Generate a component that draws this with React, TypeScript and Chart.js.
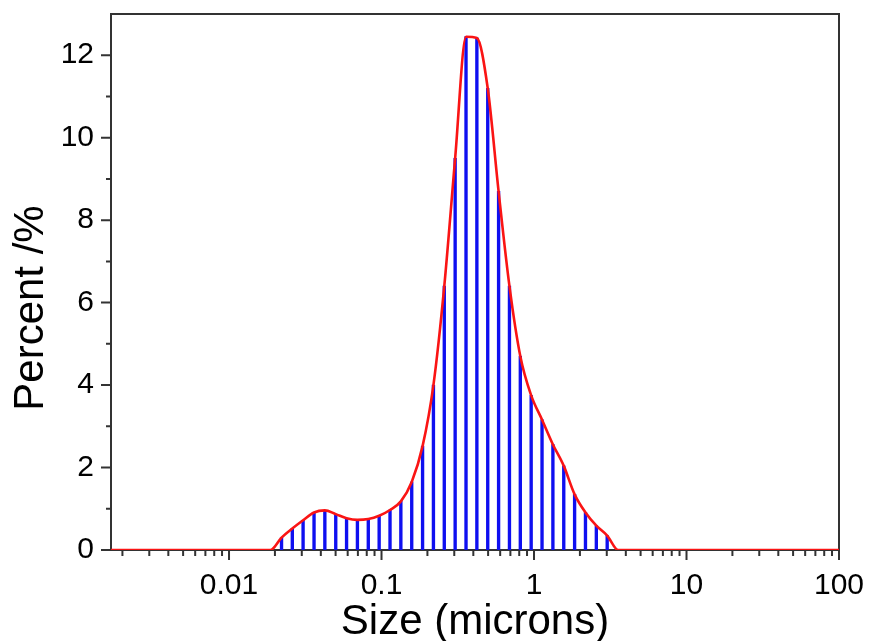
import { useEffect, useRef } from 'react';
import { Chart, registerables } from 'chart.js';

Chart.register(...registerables);

// Particle size (microns) of each measured bin
const sizes = [
  0.0187, 0.0221, 0.026, 0.0306, 0.0361, 0.0425, 0.0501, 0.059, 0.0695, 0.0819,
  0.0965, 0.1137, 0.1339, 0.1578, 0.1859, 0.219, 0.258, 0.304, 0.3582, 0.422,
  0.4972, 0.5858, 0.6902, 0.8132, 0.9581, 1.1288, 1.33, 1.567, 1.846, 2.175,
  2.563, 3.019, 3.557,
];
// Percent in each bin
const percents = [
  0, 0.3, 0.52, 0.72, 0.91, 0.96, 0.87, 0.77, 0.73, 0.75,
  0.83, 0.97, 1.18, 1.65, 2.52, 4.0, 6.4, 9.5, 12.45, 12.42,
  11.2, 8.7, 6.4, 4.7, 3.75, 3.16, 2.56, 2.04, 1.35, 0.91,
  0.59, 0.35, 0,
];
// Zero baseline reaches both ends of the axis
const leadingZeroSize = 0.001683;
const trailingZeroSize = 100;

const xMin = 0.001683;
const xMax = 100;
const xMajorTicks = [0.01, 0.1, 1, 10, 100];
const yMin = 0;
const yMax = 13;
const yMajorTicks = [0, 2, 4, 6, 8, 10, 12];
const yMinorTicks = [1, 3, 5, 7, 9, 11];

const xTitle = 'Size (microns)';
const yTitle = 'Percent /%';

const FONT = '"Liberation Sans", Arial, sans-serif';

const framePlugin = {
  id: 'frameAndTicks',
  beforeDatasetsDraw(chart: any) {
    const { ctx, chartArea } = chart;
    const xs = chart.scales.x;
    const ys = chart.scales.y;
    ctx.save();
    ctx.strokeStyle = '#333333';
    ctx.lineWidth = 2;
    ctx.strokeRect(chartArea.left, chartArea.top, chartArea.right - chartArea.left, chartArea.bottom - chartArea.top);
    ctx.beginPath();
    for (let d = -3; d <= 2; d++) {
      for (let m = 1; m <= 9; m++) {
        const v = m * Math.pow(10, d);
        if (v < xMin * 0.999 || v > xMax * 1.001) continue;
        const px = xs.getPixelForValue(v);
        const len = m === 1 ? 10 : 6;
        ctx.moveTo(px, chartArea.bottom);
        ctx.lineTo(px, chartArea.bottom + len);
      }
    }
    for (const v of yMajorTicks) {
      const py = ys.getPixelForValue(v);
      ctx.moveTo(chartArea.left, py);
      ctx.lineTo(chartArea.left - 10, py);
    }
    for (const v of yMinorTicks) {
      const py = ys.getPixelForValue(v);
      ctx.moveTo(chartArea.left, py);
      ctx.lineTo(chartArea.left - 5, py);
    }
    ctx.stroke();
    ctx.restore();
  },
  afterDraw(chart: any) {
    const { ctx, chartArea } = chart;
    ctx.save();
    ctx.fillStyle = '#000000';
    ctx.font = `42px ${FONT}`;
    ctx.textAlign = 'center';
    ctx.textBaseline = 'alphabetic';
    ctx.fillText(xTitle, (chartArea.left + chartArea.right) / 2, 634);
    ctx.translate(43, 308);
    ctx.rotate(-Math.PI / 2);
    ctx.fillText(yTitle, 0, 0);
    ctx.restore();
  },
};

const zeroPad = (scale: any) => {
  scale.paddingTop = 0;
  scale.paddingBottom = 0;
  scale.paddingLeft = 0;
  scale.paddingRight = 0;
};

export default function App() {
  const ref = useRef<HTMLCanvasElement>(null);
  useEffect(() => {
    if (!ref.current) return;
    const barData = sizes.map((s, i) => ({ x: s, y: percents[i] }));
    const lineData = [
      { x: leadingZeroSize, y: 0 },
      ...barData,
      { x: trailingZeroSize, y: 0 },
    ];
    const chart = new Chart(ref.current, {
      type: 'line',
      data: {
        datasets: [
          {
            type: 'line',
            data: lineData,
            borderColor: 'rgb(250,20,20)',
            borderWidth: 2.6,
            pointRadius: 0,
            fill: false,
            cubicInterpolationMode: 'monotone',
            order: 0,
          } as any,
          {
            type: 'bar',
            data: barData,
            backgroundColor: 'rgb(15,15,240)',
            borderWidth: 0,
            barThickness: 2.7,
            order: 1,
          } as any,
        ],
      },
      options: {
        animation: false,
        responsive: false,
        maintainAspectRatio: false,
        layout: { padding: { top: 14, right: 32, left: 0, bottom: 0 } },
        plugins: { legend: { display: false }, tooltip: { enabled: false } },
        scales: {
          x: {
            type: 'logarithmic',
            min: xMin,
            max: xMax,
            offset: false,
            grid: { display: false, drawTicks: false },
            border: { display: false },
            afterBuildTicks: (scale: any) => {
              scale.ticks = xMajorTicks.map((v) => ({ value: v }));
            },
            afterFit: (scale: any) => {
              scale.height = 91;
              zeroPad(scale);
            },
            ticks: {
              autoSkip: false,
              maxRotation: 0,
              padding: 18,
              color: '#000',
              font: { family: FONT, size: 30 },
              callback: (v: any) => String(Number(Number(v).toPrecision(6))),
            },
          },
          y: {
            type: 'linear',
            min: yMin,
            max: yMax,
            grid: { display: false, drawTicks: false },
            border: { display: false },
            afterBuildTicks: (scale: any) => {
              scale.ticks = yMajorTicks.map((v) => ({ value: v }));
            },
            afterFit: (scale: any) => {
              scale.width = 111;
              zeroPad(scale);
            },
            ticks: {
              autoSkip: false,
              padding: 17,
              color: '#000',
              font: { family: FONT, size: 30 },
              callback: (v: any) => String(v),
            },
          },
        },
      },
      plugins: [framePlugin],
    });
    return () => chart.destroy();
  }, []);
  return (
    <div style={{ position: 'fixed', left: 0, top: 0, width: 871, height: 641, background: '#fff' }}>
      <canvas ref={ref} width={871} height={641} style={{ display: 'block' }} />
    </div>
  );
}
